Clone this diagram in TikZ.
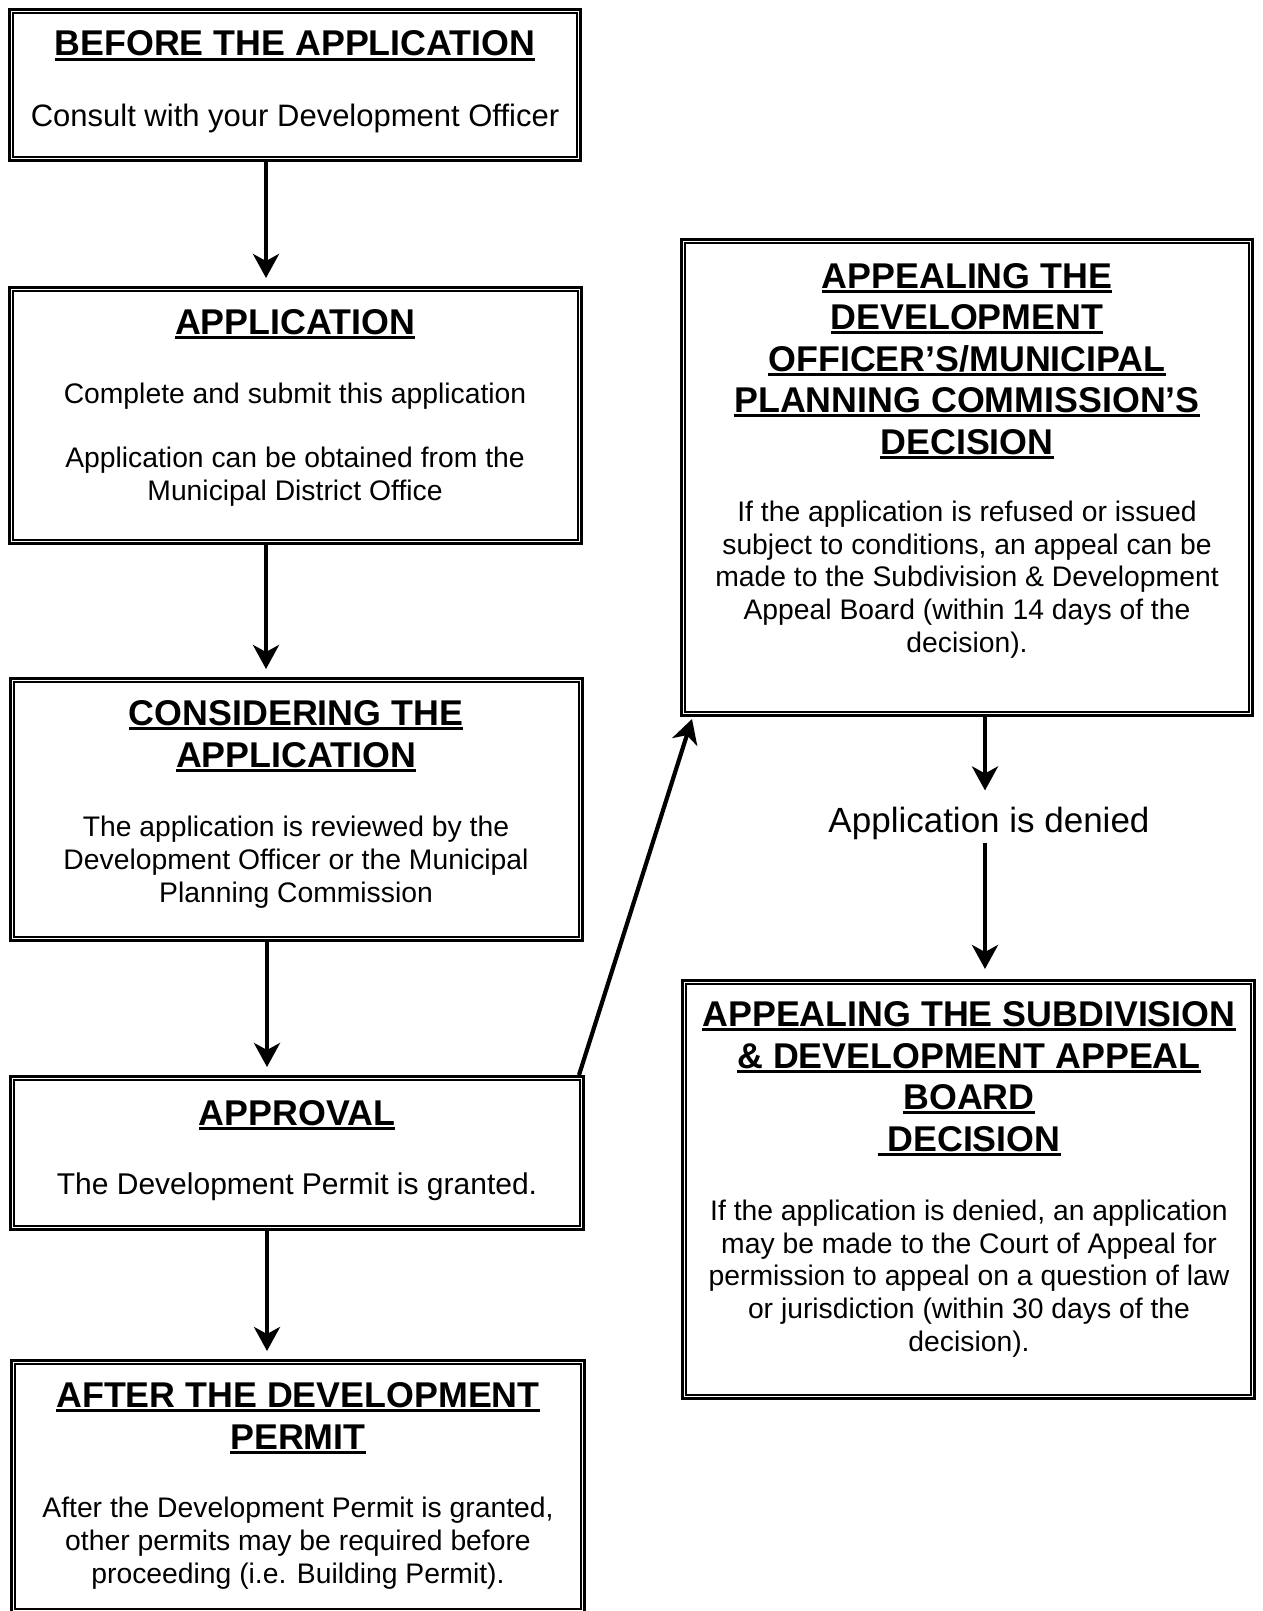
\documentclass[tikz,border=0pt]{standalone}
\usepackage{fontspec}
\setmainfont{Liberation Sans}
\usetikzlibrary{arrows.meta}
\newsavebox\hulbox
\newcommand\hul[1]{\sbox\hulbox{#1}\rlap{\rule[-4.6pt]{\wd\hulbox}{2.8pt}}\usebox\hulbox}
\begin{document}
\begin{tikzpicture}[x=1pt,y=-1pt,
  box/.style={draw, line width=3pt, inner sep=0pt},
  innerline/.style={line width=1.8pt},
  head/.style={font=\fontsize{35.8}{41.5}\selectfont\bfseries, align=center, anchor=base, inner sep=0pt},
  body/.style={font=\fontsize{28.3}{32.6}\selectfont, align=center, anchor=base, inner sep=0pt},
  arr/.style={line width=4.2pt, -{Stealth[length=24pt,width=26pt,inset=7pt]}, shorten >=8pt}]
\fill[white] (0,0) rectangle (1262,1611);
\useasboundingbox (0,0) rectangle (1262,1611);

% boxes (outer edges measured from the reference)
\node[box, minimum width=571pt, minimum height=151pt] (b1) at (295,85) {};
\node[box, minimum width=572pt, minimum height=256pt] (b2) at (295.5,415.5) {};
\node[box, minimum width=572pt, minimum height=262pt] (b3) at (296.5,809.5) {};
\node[box, minimum width=573pt, minimum height=153pt] (b4) at (297,1153) {};
\node[box, minimum width=573pt, minimum height=252pt] (b5) at (298,1486.5) {};
\node[box, minimum width=571pt, minimum height=476pt] (bA) at (967,477.5) {};
\node[box, minimum width=572pt, minimum height=418pt] (bB) at (968.5,1189.5) {};
\foreach \n in {b1,b2,b3,b4,b5,bA,bB}
  \draw[innerline] ([shift={(5.2,5.2)}]\n.north west) rectangle ([shift={(-5.2,-5.2)}]\n.south east);

% texts (anchor = baseline of the last line)
\node[head] (t1h) at (295,56) {\hul{BEFORE THE APPLICATION}};
\node[body, font=\fontsize{31}{35}\selectfont] (t1b) at (295,126) {Consult with your Development Officer};

\node[head] (t2h) at (295,334) {\hul{APPLICATION}};
\node[body] (t2b) at (295,500) {Complete and submit this application\\[31.4pt]
  Application can be obtained from the\\Municipal District Office};

\node[head] (t3h) at (296,767) {\hul{CONSIDERING THE}\\\hul{APPLICATION}};
\node[body] (t3b) at (296,902) {The application is reviewed by the\\Development Officer or the Municipal\\Planning Commission};

\node[head] (t4h) at (297,1125) {\hul{APPROVAL}};
\node[body, font=\fontsize{30}{34}\selectfont] (t4b) at (297,1194) {The Development Permit is granted.};

\node[head] (t5h) at (298,1449) {\hul{AFTER THE DEVELOPMENT}\\\hul{PERMIT}};
\node[body] (t5b) at (298,1583) {After the Development Permit is granted,\\other permits may be required before\\proceeding (i.e. Building Permit).};

\node[head] (tAh) at (967,454) {\hul{APPEALING THE}\\\hul{DEVELOPMENT}\\\hul{OFFICER’S/MUNICIPAL}\\\hul{PLANNING COMMISSION’S}\\\hul{DECISION}};
\node[body] (tAb) at (967,652) {If the application is refused or issued\\subject to conditions, an appeal can be\\made to the Subdivision \& Development\\Appeal Board (within 14 days of the\\decision).};

\node[head] (tBh) at (969,1151) {\hul{APPEALING THE SUBDIVISION}\\\hul{\& DEVELOPMENT APPEAL}\\\hul{BOARD}\\\hul{\ DECISION}};
\node[body] (tBb) at (969,1351) {If the application is denied, an application\\may be made to the Court of Appeal for\\permission to appeal on a question of law\\or jurisdiction (within 30 days of the\\decision).};

\node[body, font=\fontsize{35}{40}\selectfont] (den) at (989,832) {Application is denied};

% connectors
\draw[arr] ([xshift=-29pt]b1.south) -- ([xshift=-29.5pt]b2.north);
\draw[arr] ([xshift=-29.5pt]b2.south) -- ([xshift=-30.5pt]b3.north);
\draw[arr] ([xshift=-29.5pt]b3.south) -- ([xshift=-30pt]b4.north);
\draw[arr] ([xshift=-30pt]b4.south) -- ([xshift=-31pt]b5.north);
\draw[arr, shorten >=0pt] ([xshift=-6pt]b4.north east) -- ([xshift=12pt,yshift=-2pt]bA.south west);
\draw[arr, shorten >=16pt] ([xshift=18pt]bA.south) -- ([xshift=-4pt]den.north);
\draw[arr, shorten <=4pt, shorten >=10pt] ([xshift=-4pt]den.south) -- ([xshift=16.5pt]bB.north);
\end{tikzpicture}
\end{document}
